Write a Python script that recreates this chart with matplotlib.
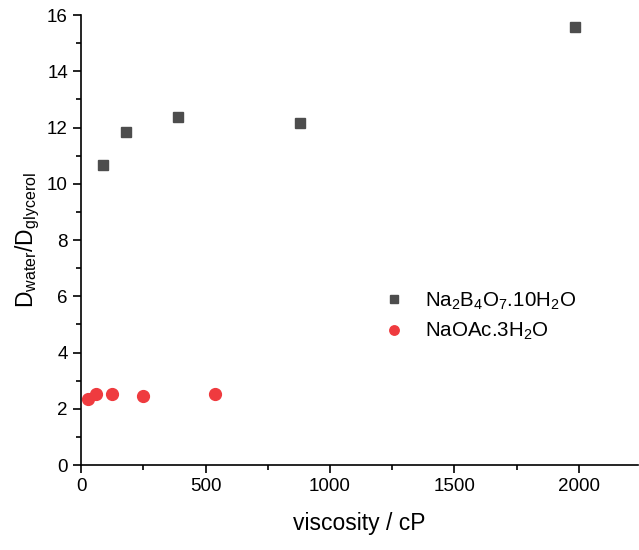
import matplotlib
matplotlib.use("Agg")
import matplotlib.pyplot as plt
from matplotlib.ticker import MultipleLocator

plt.rcParams['font.family'] = ['Liberation Sans', 'DejaVu Sans']
plt.rcParams['mathtext.fontset'] = 'custom'
plt.rcParams['mathtext.rm'] = 'Liberation Sans'
plt.rcParams['mathtext.default'] = 'regular'

# borax series
borax_visc = [88, 181, 390, 880, 1984]
borax_ratio = [10.67, 11.84, 12.37, 12.16, 15.57]
# sodium acetate series
naoac_visc = [28, 60, 125, 249, 538]
naoac_ratio = [2.35, 2.53, 2.52, 2.46, 2.52]

fig = plt.figure(figsize=(6.39, 5.5), dpi=100)
ax = fig.add_axes([0.127, 0.1545, 0.871, 0.818])

ax.plot(borax_visc, borax_ratio, 's', color='#4d4d4d', markersize=7.5,
        label='Na$_2$B$_4$O$_7$.10H$_2$O')
ax.plot(naoac_visc, naoac_ratio, 'o', color='#ef3b3f', markersize=8.5,
        label='NaOAc.3H$_2$O')

ax.set_xlim(0, 2237)
ax.set_ylim(0, 16)
ax.xaxis.set_major_locator(MultipleLocator(500))
ax.xaxis.set_minor_locator(MultipleLocator(250))
ax.yaxis.set_major_locator(MultipleLocator(2))
ax.yaxis.set_minor_locator(MultipleLocator(1))
ax.spines['top'].set_visible(False)
ax.spines['right'].set_visible(False)
for s in ['left', 'bottom']:
    ax.spines[s].set_linewidth(1.2)
ax.tick_params(which='major', length=6, width=1.2, labelsize=13.5)
ax.tick_params(which='minor', length=3.5, width=1.2)

ax.set_xlabel('viscosity / cP', fontsize=16.5, labelpad=12)
ax.set_ylabel('D$_{water}$/D$_{glycerol}$', fontsize=16.5, labelpad=4)

ax.legend(loc='center left', bbox_to_anchor=(0.51, 0.33), frameon=False,
          fontsize=14.8, handlelength=1.0, handletextpad=1.0, labelspacing=0.45,
          markerscale=0.8)

fig.savefig('out.png', dpi=100)
